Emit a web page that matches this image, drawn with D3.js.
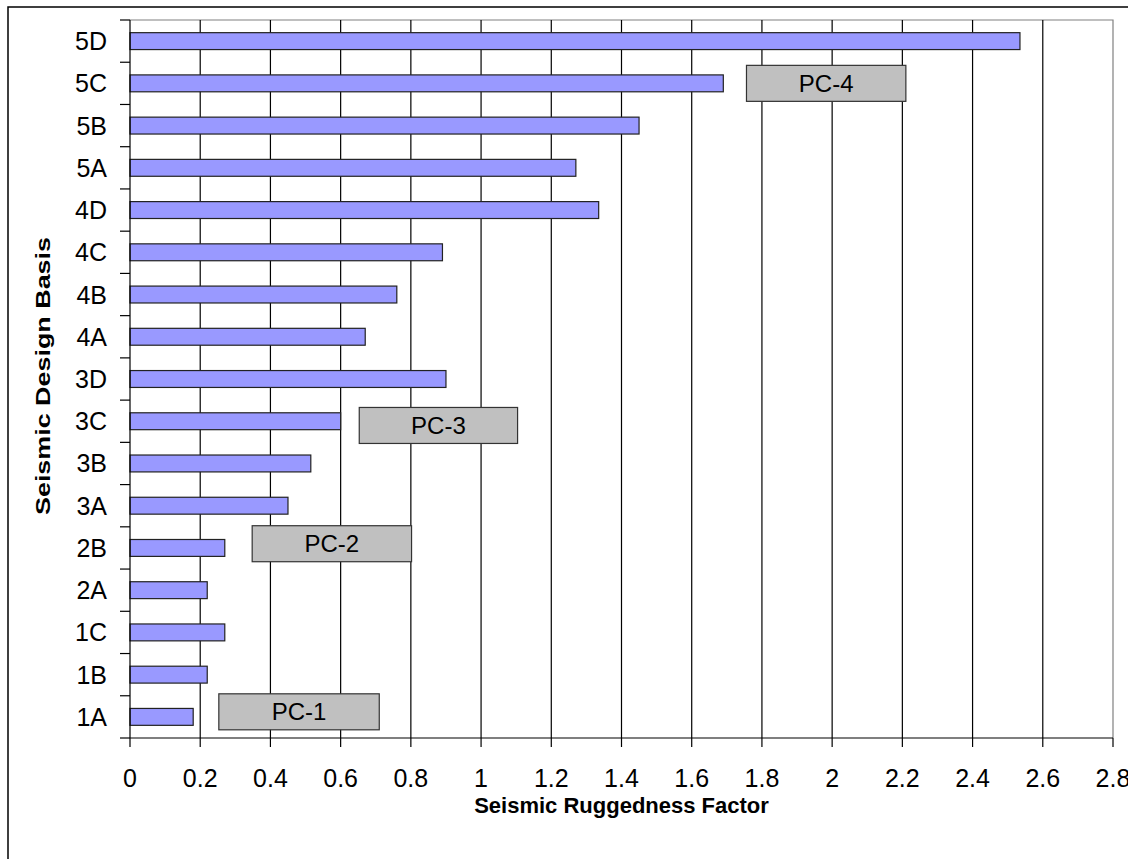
<!DOCTYPE html>
<html>
<head>
<meta charset="utf-8">
<script src="https://cdn.jsdelivr.net/npm/d3@7"></script>
<style>
  body { margin: 0; background: #fff; }
  text { font-family: Arial, "Liberation Sans", sans-serif; fill: #000; }
</style>
</head>
<body>
<div id="chart"></div>
<script>
// Categories from top to bottom
const categories = ["5D", "5C", "5B", "5A", "4D", "4C", "4B", "4A", "3D", "3C", "3B", "3A", "2B", "2A", "1C", "1B", "1A"];
const ruggedness = [2.535, 1.69, 1.45, 1.27, 1.335, 0.89, 0.76, 0.67, 0.90, 0.60, 0.515, 0.45, 0.27, 0.22, 0.27, 0.22, 0.18];
const xTicks = [0, 0.2, 0.4, 0.6, 0.8, 1, 1.2, 1.4, 1.6, 1.8, 2, 2.2, 2.4, 2.6, 2.8];

// Performance category boxes (x range in factor units, row counted from the bottom)
const pcLabels = ["PC-1", "PC-2", "PC-3", "PC-4"];
const pcFrom = [0.253, 0.348, 0.653, 1.756];
const pcTo = [0.71, 0.802, 1.104, 2.21];
const pcRow = [0.12, 4.1, 6.9, 15];

const width = 1128, height = 859;
const plotLeft = 130, plotRight = 1113, plotTop = 20, plotBottom = 738;

const svg = d3.select("#chart").append("svg")
    .attr("width", width)
    .attr("height", height);

// outer chart frame
svg.append("rect")
    .attr("x", 8).attr("y", 7)
    .attr("width", 1140).attr("height", 870)
    .attr("fill", "#fff")
    .attr("stroke", "#000")
    .attr("stroke-width", 1.5);

const x = d3.scaleLinear().domain([0, 2.8]).range([plotLeft, plotRight]);
const y = d3.scaleBand().domain(categories).range([plotTop, plotBottom])
    .paddingInner(0.6).paddingOuter(0.3);
const step = y.step();
const rowY = d3.scaleLinear().domain([0, categories.length - 1])
    .range([plotBottom - step / 2, plotTop + step / 2]);

// plot area border (top + right, grey)
svg.append("path")
    .attr("d", `M${plotLeft},${plotTop}H${plotRight}V${plotBottom}`)
    .attr("fill", "none")
    .attr("stroke", "#808080")
    .attr("stroke-width", 1.2);

// vertical gridlines
svg.append("g").selectAll("line")
    .data(xTicks.filter(d => d > 0 && d < 2.8))
    .enter().append("line")
    .attr("x1", d => x(d)).attr("x2", d => x(d))
    .attr("y1", plotTop).attr("y2", plotBottom)
    .attr("stroke", "#000")
    .attr("stroke-width", 1.2);

// bars
svg.append("g").selectAll("rect")
    .data(categories)
    .enter().append("rect")
    .attr("x", x(0))
    .attr("y", d => y(d))
    .attr("width", (d, i) => x(ruggedness[i]) - x(0))
    .attr("height", y.bandwidth())
    .attr("fill", "#9999ff")
    .attr("stroke", "#222")
    .attr("stroke-width", 1.2);

// PC boxes
const pc = svg.append("g").selectAll("g")
    .data(pcLabels)
    .enter().append("g");

pc.append("rect")
    .attr("x", (d, i) => x(pcFrom[i]))
    .attr("y", (d, i) => rowY(pcRow[i]) - 18)
    .attr("width", (d, i) => x(pcTo[i]) - x(pcFrom[i]))
    .attr("height", 36)
    .attr("fill", "#c0c0c0")
    .attr("stroke", "#333")
    .attr("stroke-width", 1.2);

pc.append("text")
    .attr("x", (d, i) => (x(pcFrom[i]) + x(pcTo[i])) / 2)
    .attr("y", (d, i) => rowY(pcRow[i]))
    .attr("dy", "0.36em")
    .attr("text-anchor", "middle")
    .style("font-size", "24px")
    .text(d => d);

// y axis (category axis with ticks between categories)
svg.append("line")
    .attr("x1", plotLeft).attr("x2", plotLeft)
    .attr("y1", plotTop).attr("y2", plotBottom)
    .attr("stroke", "#000").attr("stroke-width", 1.2);

const boundaries = categories.map(c => y(c) - (step - y.bandwidth()) / 2).concat([plotBottom]);
svg.append("g").selectAll("line")
    .data(boundaries)
    .enter().append("line")
    .attr("x1", plotLeft - 10).attr("x2", plotLeft)
    .attr("y1", d => d).attr("y2", d => d)
    .attr("stroke", "#000").attr("stroke-width", 1.2);

svg.append("g").selectAll("text")
    .data(categories)
    .enter().append("text")
    .attr("x", 107)
    .attr("y", d => y(d) + y.bandwidth() / 2)
    .attr("dy", "0.36em")
    .attr("text-anchor", "end")
    .style("font-size", "25px")
    .text(d => d);

// x axis
svg.append("line")
    .attr("x1", plotLeft).attr("x2", plotRight)
    .attr("y1", plotBottom).attr("y2", plotBottom)
    .attr("stroke", "#000").attr("stroke-width", 1.2);

svg.append("g").selectAll("line")
    .data(xTicks)
    .enter().append("line")
    .attr("x1", d => x(d)).attr("x2", d => x(d))
    .attr("y1", plotBottom).attr("y2", plotBottom + 9)
    .attr("stroke", "#000").attr("stroke-width", 1.2);

svg.append("g").selectAll("text")
    .data(xTicks)
    .enter().append("text")
    .attr("x", d => x(d))
    .attr("y", 787)
    .attr("text-anchor", "middle")
    .style("font-size", "25px")
    .text(d => d3.format("~g")(d));

// axis titles
svg.append("text")
    .attr("x", (plotLeft + plotRight) / 2)
    .attr("y", 813)
    .attr("text-anchor", "middle")
    .style("font-size", "22px")
    .style("font-weight", "bold")
    .text("Seismic Ruggedness Factor");

svg.append("text")
    .attr("transform", `translate(50, ${(plotTop + plotBottom) / 2 - 3}) rotate(-90)`)
    .attr("text-anchor", "middle")
    .attr("textLength", 278)
    .attr("lengthAdjust", "spacingAndGlyphs")
    .style("font-size", "21px")
    .style("font-weight", "bold")
    .text("Seismic Design Basis");
</script>
</body>
</html>
